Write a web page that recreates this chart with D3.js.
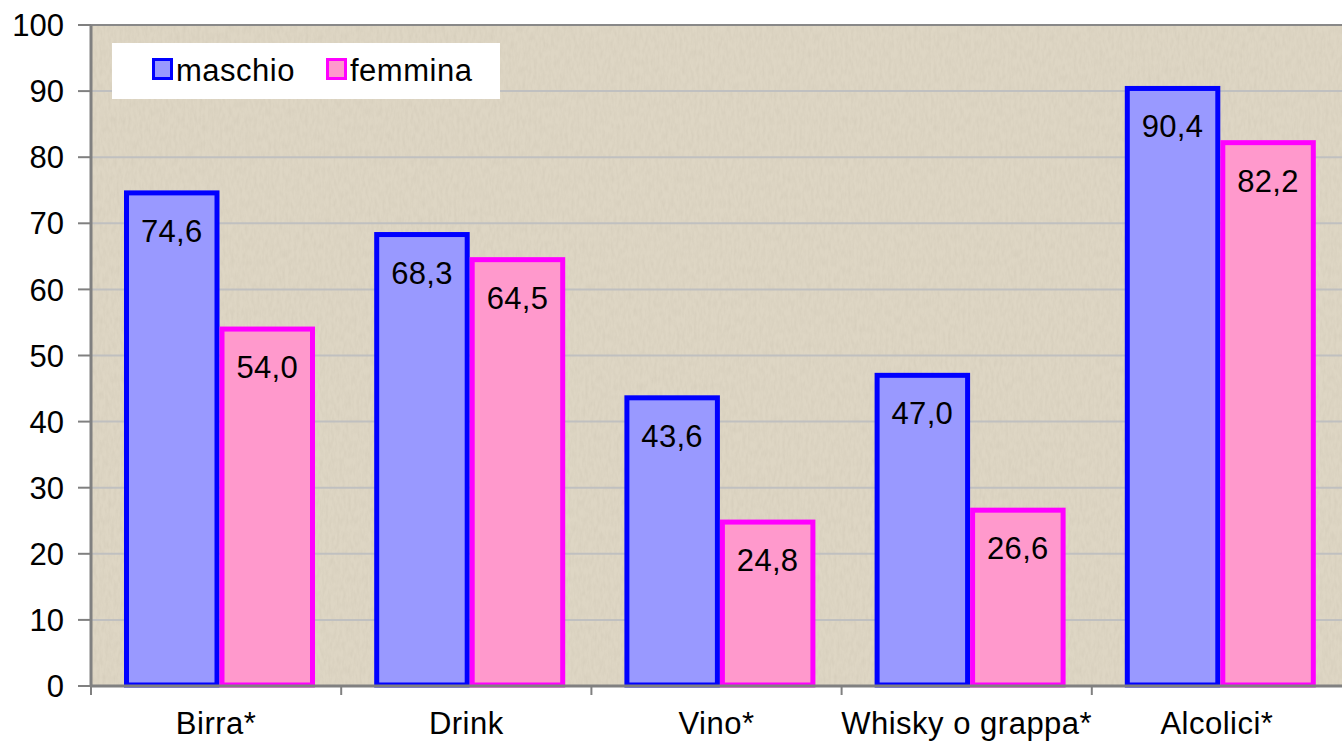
<!DOCTYPE html>
<html>
<head>
<meta charset="utf-8">
<script src="https://cdn.jsdelivr.net/npm/d3@7"></script>
<style>
  body { margin: 0; background: #fff; }
  svg text { font-family: Arial, "Liberation Sans", sans-serif; }
</style>
</head>
<body>
<div id="chart"></div>
<script>
// data
var categories = ['Birra*', 'Drink', 'Vino*', 'Whisky o grappa*', 'Alcolici*']
var seriesNames = ['maschio', 'femmina']
var maschio = [74.6, 68.3, 43.6, 47.0, 90.4]
var femmina = [54.0, 64.5, 24.8, 26.6, 82.2]
var yTicks = [0, 10, 20, 30, 40, 50, 60, 70, 80, 90, 100]

var width = 1342
var height = 743
var plotL = 91, plotR = 1342, plotT = 25, plotB = 686

var fills = ['#9999ff', '#ff99cc']
var strokes = ['#0000ff', '#ff00ff']

var svg = d3.select('#chart').append('svg')
  .attr('width', width)
  .attr('height', height)

var defs = svg.append('defs')
var filt = defs.append('filter').attr('id', 'grain')
  .attr('x', 0).attr('y', 0).attr('width', '100%').attr('height', '100%')
filt.append('feTurbulence')
  .attr('type', 'fractalNoise')
  .attr('baseFrequency', '0.35 0.12')
  .attr('numOctaves', 2)
  .attr('seed', 4)
  .attr('result', 'noise')
filt.append('feColorMatrix')
  .attr('in', 'noise')
  .attr('type', 'matrix')
  .attr('values', '0 0 0 0 0.55  0 0 0 0 0.5  0 0 0 0 0.4  0 0 0 -1.6 1.05')

var x0 = d3.scaleBand().domain(categories).range([plotL, plotR])
var x1 = d3.scaleBand().domain(seriesNames).range([33, 224])
var y = d3.scaleLinear().domain([0, 100]).range([plotB, plotT])

// plot background
svg.append('rect')
  .attr('x', plotL).attr('y', plotT)
  .attr('width', plotR - plotL).attr('height', plotB - plotT)
  .attr('fill', '#ded6c4')
svg.append('rect')
  .attr('x', plotL).attr('y', plotT)
  .attr('width', plotR - plotL).attr('height', plotB - plotT)
  .attr('filter', 'url(#grain)')
  .attr('opacity', 0.3)

// gridlines
svg.append('g')
  .selectAll('line')
  .data(yTicks.filter(function (d) { return d > 0 }))
  .join('line')
  .attr('x1', plotL).attr('x2', plotR)
  .attr('y1', function (d) { return y(d) })
  .attr('y2', function (d) { return y(d) })
  .attr('stroke', function (d) { return d === 100 ? '#888' : '#c0c0c0' })
  .attr('stroke-width', 2)

// bars
var rows = categories.map(function (c, i) {
  return { cat: c, vals: [maschio[i], femmina[i]] }
})

var groups = svg.append('g')
  .selectAll('g')
  .data(rows)
  .join('g')
  .attr('transform', function (d) { return 'translate(' + x0(d.cat) + ',0)' })

groups.selectAll('rect')
  .data(function (d) { return d.vals.map(function (v, k) { return { s: seriesNames[k], k: k, v: v } }) })
  .join('rect')
  .attr('x', function (d) { return x1(d.s) + 2.5 })
  .attr('width', x1.bandwidth() - 5)
  .attr('y', function (d) { return y(d.v) })
  .attr('height', function (d) { return y(0) - y(d.v) - 1 })
  .attr('fill', function (d) { return fills[d.k] })
  .attr('stroke', function (d) { return strokes[d.k] })
  .attr('stroke-width', 5)

groups.selectAll('text')
  .data(function (d) { return d.vals.map(function (v, k) { return { s: seriesNames[k], k: k, v: v } }) })
  .join('text')
  .attr('x', function (d) { return x1(d.s) + x1.bandwidth() / 2 })
  .attr('y', function (d) { return y(d.v) + 49 })
  .attr('text-anchor', 'middle')
  .attr('font-size', 31)
  .attr('letter-spacing', 0.3)
  .attr('fill', '#000')
  .text(function (d) { return d3.format('.1f')(d.v).replace('.', ',') })

// y axis
var yAxis = svg.append('g')
yAxis.append('line')
  .attr('x1', plotL).attr('x2', plotL)
  .attr('y1', plotT).attr('y2', plotB + 1)
  .attr('stroke', '#808080').attr('stroke-width', 3)
yAxis.selectAll('line.tk')
  .data(yTicks)
  .join('line')
  .attr('class', 'tk')
  .attr('x1', 78).attr('x2', plotL)
  .attr('y1', function (d) { return y(d) })
  .attr('y2', function (d) { return y(d) })
  .attr('stroke', '#808080').attr('stroke-width', 2)
yAxis.selectAll('text')
  .data(yTicks)
  .join('text')
  .attr('x', 64)
  .attr('y', function (d) { return y(d) })
  .attr('dy', '0.36em')
  .attr('text-anchor', 'end')
  .attr('font-size', 31)
  .attr('fill', '#000')
  .text(function (d) { return d })

// x axis
var xAxis = svg.append('g')
xAxis.append('line')
  .attr('x1', plotL).attr('x2', plotR)
  .attr('y1', plotB).attr('y2', plotB)
  .attr('stroke', '#808080').attr('stroke-width', 3)
xAxis.selectAll('line.tk')
  .data(categories)
  .join('line')
  .attr('class', 'tk')
  .attr('x1', function (d) { return x0(d) })
  .attr('x2', function (d) { return x0(d) })
  .attr('y1', plotB).attr('y2', plotB + 9)
  .attr('stroke', '#808080').attr('stroke-width', 2)
xAxis.selectAll('text')
  .data(categories)
  .join('text')
  .attr('x', function (d) { return x0(d) + x0.bandwidth() / 2 })
  .attr('y', 734)
  .attr('text-anchor', 'middle')
  .attr('font-size', 31)
  .attr('letter-spacing', 0.5)
  .attr('fill', '#000')
  .text(function (d) { return d })

// legend
var legend = svg.append('g')
legend.append('rect')
  .attr('x', 112).attr('y', 43)
  .attr('width', 388).attr('height', 56)
  .attr('fill', '#fff')
var legX = [152, 326]
var li = legend.selectAll('g')
  .data(seriesNames)
  .join('g')
  .attr('transform', function (d, i) { return 'translate(' + legX[i] + ',0)' })
li.append('rect')
  .attr('x', 1.5).attr('y', 59.5)
  .attr('width', 18).attr('height', 19)
  .attr('fill', function (d, i) { return fills[i] })
  .attr('stroke', function (d, i) { return strokes[i] })
  .attr('stroke-width', 3)
li.append('text')
  .attr('x', 24).attr('y', 81)
  .attr('font-size', 31)
  .attr('letter-spacing', 0.5)
  .attr('fill', '#000')
  .text(function (d) { return d })
</script>
</body>
</html>
